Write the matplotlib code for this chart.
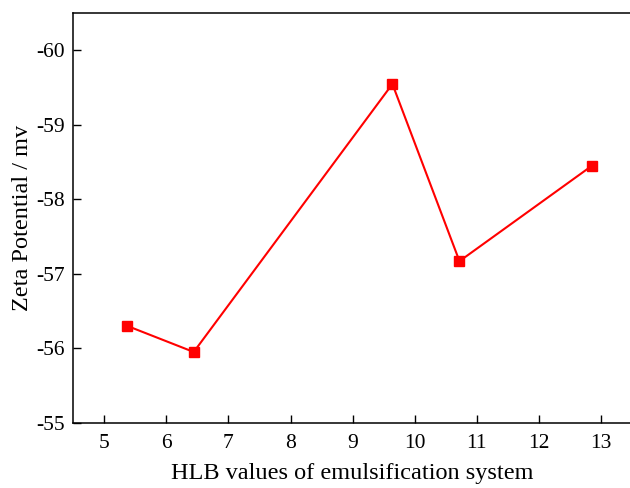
import matplotlib
matplotlib.use("Agg")
import matplotlib.pyplot as plt

# HLB-verdier og zetapotensial (mV), lest av figuren
hlb = [5.37, 6.44, 9.64, 10.72, 12.85]
zeta = [-56.30, -55.95, -59.55, -57.17, -58.45]

x_ticks = [5, 6, 7, 8, 9, 10, 11, 12, 13]
y_ticks = [-55, -56, -57, -58, -59, -60]

plt.rcParams["font.family"] = ["Liberation Serif", "DejaVu Serif"]

fig = plt.figure(figsize=(6.3, 4.88), dpi=100)
ax = fig.add_axes([0.1163, 0.1338, 0.887, 0.839])

ax.plot(hlb, zeta, color="#ff0000", linewidth=1.5, marker="s",
        markersize=7, markerfacecolor="#ff0000", markeredgecolor="#ff0000")

ax.set_xlim(4.5, 13.5)
ax.set_ylim(-55, -60.5)
ax.set_xticks(x_ticks)
ax.set_yticks(y_ticks)
ax.set_yticklabels([str(v) for v in y_ticks])

ax.tick_params(axis="both", direction="in", length=5.5, width=1.0,
               labelsize=15.5, top=False, right=False)
ax.tick_params(axis="x", pad=8)
ax.tick_params(axis="y", pad=6)

for side in ["left", "bottom", "top", "right"]:
    ax.spines[side].set_linewidth(1.1)

ax.set_xlabel("HLB values of emulsification system", fontsize=17.5, labelpad=7)
ax.set_ylabel("Zeta Potential / mv", fontsize=17.5, labelpad=2)

fig.savefig("out.png", dpi=100)
